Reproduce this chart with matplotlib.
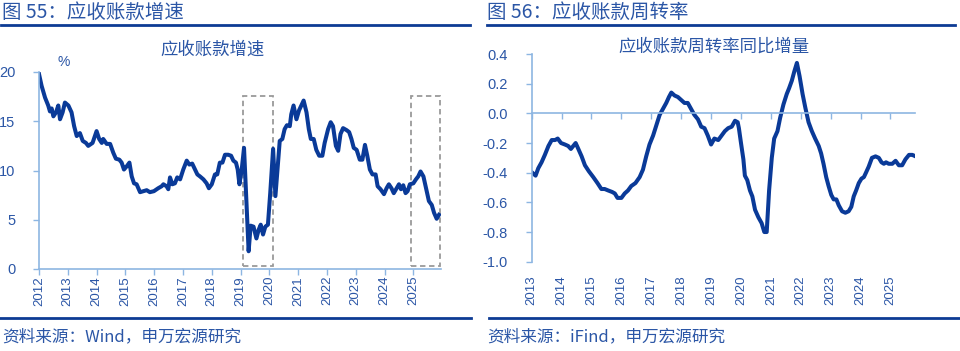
import matplotlib
matplotlib.use("Agg")
import matplotlib.pyplot as plt
from matplotlib.lines import Line2D
from matplotlib.patches import Rectangle

plt.rcParams['font.family'] = ['Noto Sans CJK SC', 'DejaVu Sans']

# ---- data ----
# left: accounts receivable growth (%), x in decimal years
ar_growth_x = [2012.00, 2012.09, 2012.21, 2012.32, 2012.38, 2012.44, 2012.50, 2012.59, 2012.67, 2012.73,
               2012.82, 2012.90, 2013.02, 2013.13, 2013.22, 2013.31, 2013.42, 2013.52, 2013.63, 2013.71,
               2013.86, 2014.00, 2014.09, 2014.18, 2014.23, 2014.35, 2014.47, 2014.58, 2014.67, 2014.79,
               2014.87, 2014.95, 2015.04, 2015.14, 2015.22, 2015.30, 2015.39, 2015.51, 2015.62, 2015.74,
               2015.85, 2015.99, 2016.14, 2016.26, 2016.32, 2016.43, 2016.49, 2016.55, 2016.63, 2016.72,
               2016.80, 2016.90, 2017.01, 2017.13, 2017.22, 2017.32, 2017.42, 2017.50, 2017.59, 2017.71,
               2017.82, 2017.90, 2018.00, 2018.11, 2018.19, 2018.28, 2018.37, 2018.46, 2018.57, 2018.67,
               2018.75, 2018.84, 2018.90, 2018.96, 2019.04, 2019.12, 2019.20, 2019.28, 2019.35, 2019.45,
               2019.55, 2019.63, 2019.70, 2019.78, 2019.86, 2019.95, 2020.03, 2020.13, 2020.21, 2020.30,
               2020.36, 2020.45, 2020.53, 2020.61, 2020.71, 2020.76, 2020.84, 2020.94, 2021.03, 2021.11,
               2021.19, 2021.29, 2021.37, 2021.44, 2021.54, 2021.63, 2021.73, 2021.84, 2021.92, 2022.04,
               2022.13, 2022.21, 2022.31, 2022.39, 2022.47, 2022.56, 2022.68, 2022.77, 2022.85, 2022.93,
               2023.03, 2023.14, 2023.23, 2023.32, 2023.40, 2023.49, 2023.58, 2023.69, 2023.76, 2023.86,
               2023.98, 2024.07, 2024.15, 2024.24, 2024.32, 2024.42, 2024.50, 2024.57, 2024.65, 2024.73,
               2024.80, 2024.88, 2025.00, 2025.09, 2025.17, 2025.25, 2025.35, 2025.44, 2025.54, 2025.64,
               2025.72, 2025.81, 2025.89]
ar_growth = [19.8, 18.6, 17.4, 16.6, 16.0, 16.3, 15.5, 15.9, 16.6, 15.2,
             15.9, 16.9, 16.6, 15.9, 14.5, 13.5, 13.8, 13.0, 12.8, 12.5,
             12.8, 14.0, 13.2, 12.8, 13.2, 12.7, 12.7, 11.8, 11.2, 11.1,
             10.8, 10.1, 10.4, 10.8, 9.4, 8.7, 8.6, 7.8, 7.9, 8.0,
             7.8, 7.9, 8.2, 8.4, 8.6, 8.4, 8.1, 9.3, 8.6, 8.7,
             9.3, 9.1, 10.1, 11.0, 10.6, 10.7, 10.1, 9.6, 9.4, 9.1,
             8.7, 8.2, 8.6, 9.6, 9.6, 10.8, 10.8, 11.6, 11.6, 11.5,
             11.0, 10.8, 10.1, 8.6, 10.1, 12.3, 7.0, 1.8, 4.4, 4.3,
             3.1, 4.0, 4.5, 3.5, 4.3, 4.5, 7.7, 12.2, 7.4, 10.8,
             13.0, 13.2, 14.2, 14.6, 14.5, 15.7, 16.6, 15.2, 16.1, 16.6,
             17.1, 15.9, 14.2, 13.2, 13.2, 12.1, 11.5, 11.5, 12.8, 14.2,
             14.9, 14.5, 12.5, 12.0, 13.7, 14.3, 14.1, 13.9, 13.2, 12.3,
             12.1, 11.1, 11.1, 12.6, 11.5, 10.1, 9.6, 9.6, 8.4, 8.1,
             7.6, 8.2, 8.6, 8.2, 7.7, 8.2, 8.6, 8.1, 8.5, 7.7,
             7.9, 8.6, 8.7, 9.1, 9.4, 9.9, 9.4, 8.2, 6.9, 6.5,
             5.7, 5.1, 5.5]
left_years = list(range(2012, 2026))
highlight_spans = [(2019.09, 2020.11), (2024.92, 2025.92)]
highlight_range = (0.3, 17.6)

# right: yoy change in receivables turnover
turnover_x = [2013.02, 2013.13, 2013.22, 2013.33, 2013.44, 2013.56, 2013.67, 2013.78, 2013.87, 2013.98,
              2014.11, 2014.22, 2014.31, 2014.39, 2014.47, 2014.56, 2014.67, 2014.78, 2014.91, 2015.06,
              2015.20, 2015.33, 2015.44, 2015.56, 2015.69, 2015.78, 2015.87, 2016.00, 2016.11, 2016.22,
              2016.33, 2016.47, 2016.61, 2016.72, 2016.83, 2016.94, 2017.06, 2017.17, 2017.28, 2017.39,
              2017.50, 2017.59, 2017.67, 2017.78, 2017.89, 2018.00, 2018.11, 2018.22, 2018.33, 2018.44,
              2018.56, 2018.67, 2018.78, 2018.89, 2019.00, 2019.11, 2019.24, 2019.35, 2019.46, 2019.57,
              2019.69, 2019.80, 2019.89, 2019.93, 2020.00, 2020.08, 2020.13, 2020.21, 2020.30, 2020.38,
              2020.47, 2020.58, 2020.69, 2020.78, 2020.86, 2020.94, 2021.03, 2021.11, 2021.22, 2021.31,
              2021.42, 2021.53, 2021.61, 2021.70, 2021.78, 2021.87, 2021.96, 2022.06, 2022.15, 2022.26,
              2022.37, 2022.48, 2022.60, 2022.68, 2022.76, 2022.85, 2022.93, 2023.02, 2023.10, 2023.19,
              2023.27, 2023.38, 2023.49, 2023.60, 2023.69, 2023.77, 2023.85, 2023.94, 2024.03, 2024.11,
              2024.18, 2024.27, 2024.38, 2024.50, 2024.61, 2024.70, 2024.78, 2024.85, 2024.94, 2025.06,
              2025.17, 2025.28, 2025.39, 2025.50, 2025.62, 2025.73, 2025.84]
turnover_chg = [-0.40, -0.42, -0.37, -0.33, -0.28, -0.22, -0.18, -0.18, -0.17, -0.20,
                -0.21, -0.22, -0.24, -0.22, -0.20, -0.24, -0.29, -0.35, -0.39, -0.43,
                -0.47, -0.51, -0.51, -0.52, -0.53, -0.54, -0.57, -0.57, -0.54, -0.52,
                -0.49, -0.47, -0.43, -0.38, -0.29, -0.21, -0.15, -0.08, -0.01, 0.03,
                0.07, 0.11, 0.14, 0.12, 0.11, 0.09, 0.07, 0.07, 0.03, -0.01,
                -0.04, -0.09, -0.10, -0.15, -0.21, -0.17, -0.18, -0.15, -0.12, -0.10,
                -0.09, -0.05, -0.06, -0.10, -0.20, -0.31, -0.42, -0.45, -0.52, -0.56,
                -0.65, -0.70, -0.74, -0.80, -0.80, -0.52, -0.30, -0.17, -0.12, -0.03,
                0.06, 0.13, 0.17, 0.22, 0.28, 0.34, 0.25, 0.13, 0.04, -0.06,
                -0.12, -0.17, -0.22, -0.27, -0.34, -0.43, -0.49, -0.55, -0.58, -0.58,
                -0.62, -0.66, -0.67, -0.66, -0.63, -0.56, -0.52, -0.47, -0.44, -0.43,
                -0.40, -0.36, -0.30, -0.29, -0.30, -0.33, -0.34, -0.33, -0.34, -0.34,
                -0.32, -0.35, -0.35, -0.31, -0.28, -0.28, -0.29]
right_years = list(range(2013, 2026))
right_yticks = [0.4, 0.2, 0.0, -0.2, -0.4, -0.6, -0.8, -1.0]

LINE = '#0A3A98'
TEXT = '#2B56A6'
SPINE = '#8DB6E2'
RULE = '#0D3B94'
NUM_FONT = ['Liberation Sans', 'DejaVu Sans']

fig = plt.figure(figsize=(9.6, 3.51), dpi=100)

# ---- left panel ----
ax1 = fig.add_axes([39 / 960, 1 - 269 / 351, 401.7 / 960, 197 / 351])
ax1.plot(ar_growth_x, ar_growth, color=LINE, lw=2.9, solid_joinstyle='round')
for x0, x1 in highlight_spans:
    ax1.add_patch(Rectangle((x0, highlight_range[0]), x1 - x0, highlight_range[1] - highlight_range[0],
                            fill=False, ls=(0, (3, 2)), lw=1.3, ec='#9a9a9a', zorder=1))
ax1.set_xlim(2012, 2025.95)
ax1.set_ylim(0, 20)
ax1.set_yticks([0, 5, 10, 15, 20])
ax1.set_xticks(left_years)
ax1.set_xticklabels([str(y) for y in left_years], rotation=90, fontsize=9.5, family=NUM_FONT,
                    color=TEXT, va='top')
ax1.tick_params(axis='x', length=4, width=1, color=SPINE, pad=1)
ax1.tick_params(axis='y', length=4, width=1, color=SPINE, pad=13, labelsize=10.5, labelcolor=TEXT)
for lab in ax1.get_yticklabels():
    lab.set_family(NUM_FONT)
for s in ['top', 'right']:
    ax1.spines[s].set_visible(False)
for s in ['left', 'bottom']:
    ax1.spines[s].set_color(SPINE)
    ax1.spines[s].set_linewidth(1.2)

# ---- right panel ----
ax2 = fig.add_axes([531.7 / 960, 1 - 261.7 / 351, 383.3 / 960, 207.7 / 351])
ax2.plot(turnover_x, turnover_chg, color=LINE, lw=2.9, solid_joinstyle='round')
ax2.set_xlim(2013, 2025.82)
ax2.set_ylim(-1.0, 0.4)
ax2.set_yticks(right_yticks)
ax2.set_yticklabels([f'{v:.1f}' for v in right_yticks], family=NUM_FONT)
ax2.tick_params(axis='y', length=4, width=1, color=SPINE, pad=13, labelsize=10.5, labelcolor=TEXT)
ax2.spines['bottom'].set_position(('data', 0))
ax2.set_xticks(right_years)
ax2.set_xticklabels([])
ax2.tick_params(axis='x', length=4, width=1, color=SPINE)
for s in ['top', 'right']:
    ax2.spines[s].set_visible(False)
for s in ['left', 'bottom']:
    ax2.spines[s].set_color(SPINE)
    ax2.spines[s].set_linewidth(1.2)
sec = ax2.secondary_xaxis(0.0)
sec.set_xticks(right_years)
sec.set_xticklabels([str(y) for y in right_years], rotation=90, fontsize=9.5, family=NUM_FONT,
                    color=TEXT, va='top')
sec.tick_params(axis='x', length=0, pad=10)
sec.spines['bottom'].set_visible(False)

# ---- titles, rules, footers ----
fig.text(2 / 960, 1 - 12 / 351, '图 55：应收账款增速', fontsize=14, color=TEXT, va='center', ha='left')
fig.text(487 / 960, 1 - 12 / 351, '图 56：应收账款周转率', fontsize=14, color=TEXT, va='center', ha='left')
fig.text(213 / 960, 1 - 50 / 351, '应收账款增速', fontsize=12.5, color=TEXT, va='center', ha='center')
fig.text(714 / 960, 1 - 47 / 351, '应收账款周转率同比增量', fontsize=12.5, color=TEXT, va='center', ha='center')
fig.text(64 / 960, 1 - 62 / 351, '%', fontsize=10, color=TEXT, va='center', ha='center', family=NUM_FONT)

for x0, x1 in [(1, 470), (487, 955)]:
    fig.add_artist(Line2D([x0 / 960, x1 / 960], [1 - 24.5 / 351] * 2, color=RULE, lw=2.0))
for x0, x1 in [(0, 471), (489, 960)]:
    fig.add_artist(Line2D([x0 / 960, x1 / 960], [1 - 318 / 351] * 2, color=RULE, lw=2.0))

fig.text(2 / 960, 1 - 337 / 351, '资料来源：Wind，申万宏源研究', fontsize=12, color=TEXT, va='center', ha='left')
fig.text(487 / 960, 1 - 337 / 351, '资料来源：iFind，申万宏源研究', fontsize=12, color=TEXT, va='center', ha='left')

fig.savefig('out.png', dpi=100)
